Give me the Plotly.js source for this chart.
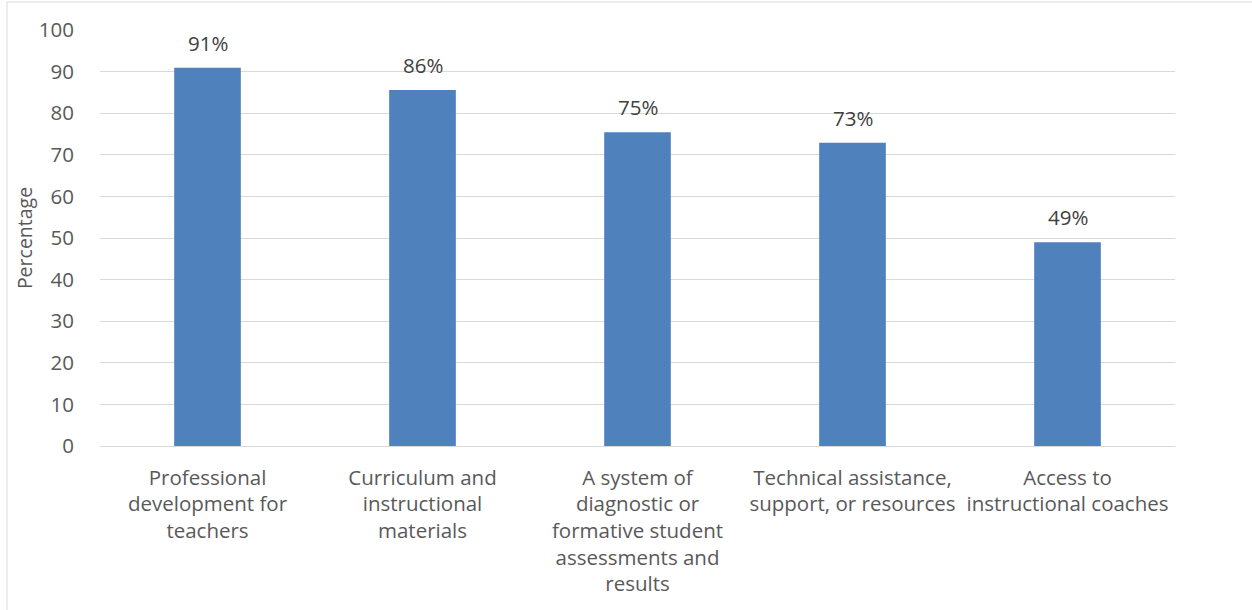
<!DOCTYPE html>
<html>
<head>
<meta charset="utf-8">
<script src="https://cdn.plot.ly/plotly-3.0.1.min.js"></script>
<style>html,body{margin:0;padding:0;background:#fff;}#chart{width:1252px;height:610px;}</style>
</head>
<body>
<div id="chart"></div>
<script>
const categories = [
  "Professional<br>development for<br>teachers",
  "Curriculum and<br>instructional<br>materials",
  "A system of<br>diagnostic or<br>formative student<br>assessments and<br>results",
  "Technical assistance,<br>support, or resources",
  "Access to<br>instructional coaches"
];
const values = [90.9, 85.6, 75.4, 72.9, 49.0];
const valueLabels = ["91%", "86%", "75%", "73%", "49%"];
const yTicks = [0, 10, 20, 30, 40, 50, 60, 70, 80, 90, 100];

const fontFam = "Open Sans, Liberation Sans, sans-serif";
const fs = 20.5;
const trace = {
  type: "bar",
  x: categories,
  y: values,
  marker: {color: "#4f81bd"},
  width: 0.31,
  hoverinfo: "none"
};
const annotations = categories.map((c, i) => ({
  x: c, y: values[i], xref: "x", yref: "y",
  text: valueLabels[i], showarrow: false,
  yanchor: "bottom", yshift: 9,
  font: {family: fontFam, size: fs, color: "#404040"}
}));
const layout = {
  width: 1252, height: 610,
  margin: {l: 100, r: 77, t: 30, b: 164},
  paper_bgcolor: "#fff", plot_bgcolor: "#fff",
  showlegend: false,
  font: {family: fontFam, size: fs, color: "#595959"},
  xaxis: {
    type: "category",
    showgrid: false,
    zeroline: false,
    showline: true, linecolor: "#d9d9d9", linewidth: 1,
    ticks: "outside", ticklen: 13, tickcolor: "rgba(0,0,0,0)",
    tickfont: {family: fontFam, size: fs, color: "#595959"},
    tickangle: 0
  },
  yaxis: {
    range: [0, 100],
    tickvals: yTicks,
    showgrid: true, gridcolor: "#d9d9d9", gridwidth: 1,
    zeroline: false, showline: false,
    ticks: "outside", ticklen: 21, tickcolor: "rgba(0,0,0,0)",
    tickfont: {family: fontFam, size: fs, color: "#595959"},
    title: {text: "Percentage", font: {family: fontFam, size: 19.5, color: "#595959"}, standoff: 0}
  },
  annotations: annotations,
  shapes: [{
    type: "rect", xref: "paper", yref: "paper",
    x0: (7 - 100) / 1075, x1: (1260 - 100) / 1075,
    y0: (446 - 620) / 416, y1: (446 - 2) / 416,
    line: {color: "#d9d9d9", width: 1}, fillcolor: "rgba(0,0,0,0)", layer: "below"
  }]
};
Plotly.newPlot("chart", [trace], layout, {displayModeBar: false, staticPlot: true});
</script>
</body>
</html>
